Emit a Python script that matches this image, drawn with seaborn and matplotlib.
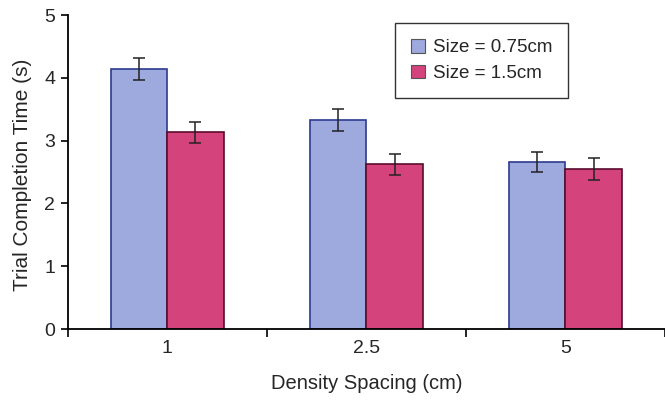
import matplotlib
matplotlib.use("Agg")
import matplotlib.pyplot as plt
import seaborn as sns
import pandas as pd
import numpy as np

categories = ["1", "2.5", "5"]
series = ["Size = 0.75cm", "Size = 1.5cm"]
small_vals = [4.14, 3.33, 2.66]
large_vals = [3.13, 2.62, 2.55]
small_err = [0.17, 0.17, 0.16]
large_err = [0.17, 0.16, 0.17]

df = pd.DataFrame({
    "Density": categories * 2,
    "Size": [series[0]] * 3 + [series[1]] * 3,
    "Time": small_vals + large_vals,
    "Err": small_err + large_err,
})

sns.set_style("white")
plt.rcParams["font.family"] = ["Liberation Sans", "DejaVu Sans"]

fig = plt.figure(figsize=(6.65, 4.0), dpi=100)
ax = fig.add_axes([0.102, 0.1775, 0.898, 0.785])

fills = ["#9ea9dd", "#d4437c"]
edges = ["#2c3b8f", "#5a0c2c"]
sns.barplot(data=df, x="Density", y="Time", hue="Size", order=categories,
            hue_order=series, palette=fills, saturation=1, errorbar=None,
            width=0.565, linewidth=1.2, ax=ax, legend=True)

# edge colors & error bars
bar_containers = list(ax.containers)
for i, cont in enumerate(bar_containers):
    errs = small_err if i == 0 else large_err
    vals = small_vals if i == 0 else large_vals
    xs = []
    for p in cont.patches:
        p.set_edgecolor(edges[i])
        xs.append(p.get_x() + p.get_width() / 2)
    ax.errorbar(xs, vals, yerr=errs, fmt="none", ecolor="#222222",
                elinewidth=1.1, capsize=4, capthick=1.1, zorder=5)

ax.set_ylim(0, 5)
ax.set_xlim(-0.5, 2.49)
ax.set_yticks([0, 1, 2, 3, 4, 5])
ax.set_xticks([0, 1, 2])
ax.set_xticklabels(categories)
ax.set_xticks([-0.5, 0.5, 1.5, 2.5], minor=True)

for s in ["top", "right"]:
    ax.spines[s].set_visible(False)
for s in ["left", "bottom"]:
    ax.spines[s].set_color("black")
    ax.spines[s].set_linewidth(1.3)

ax.tick_params(axis="y", which="major", direction="out", length=5, width=1.2,
               left=True, labelsize=14, pad=4, color="black")
ax.tick_params(axis="x", which="major", length=0, labelsize=14, pad=8)
ax.tick_params(axis="x", which="minor", direction="out", length=6, width=1.2,
               bottom=True, color="black")

ax.set_xlabel("Density Spacing (cm)", fontsize=14.5, labelpad=12)
ax.set_ylabel("Trial Completion Time (s)", fontsize=15)
ax.yaxis.set_label_coords(-0.06, 0.49)

leg = ax.legend(loc="upper left", bbox_to_anchor=(0.548, 0.975), frameon=True,
                fancybox=False, edgecolor="black", fontsize=13.5,
                handlelength=0.75, handleheight=0.75, borderpad=0.85,
                labelspacing=0.45, handletextpad=0.4, borderaxespad=0.0,
                title=None)
leg.get_frame().set_linewidth(1.0)
for h in leg.legend_handles:
    h.set_edgecolor("#555555")
    h.set_linewidth(0.8)

fig.savefig("out.png", dpi=100)
